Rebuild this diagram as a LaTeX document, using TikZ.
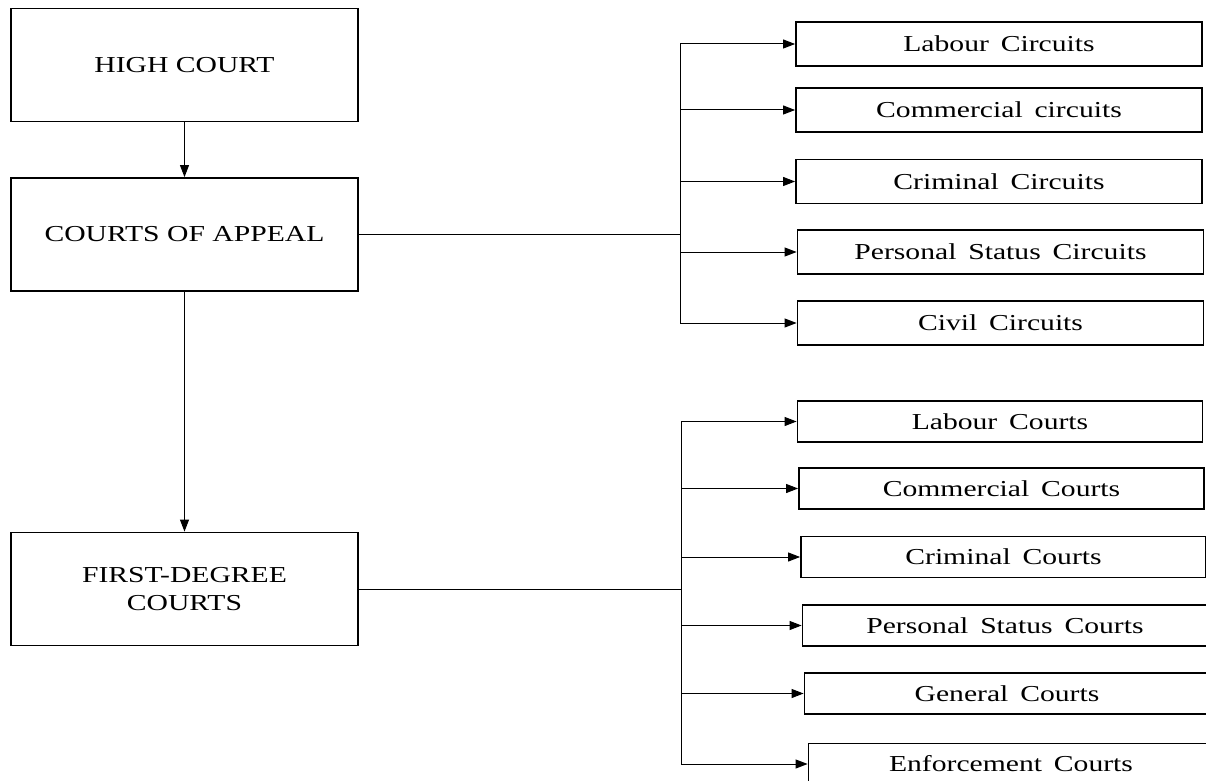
\documentclass[tikz,border=0pt]{standalone}
\usepackage{fontspec}
\setmainfont{Liberation Serif}[FakeStretch=1.3]
\newfontfamily\boxfont{Liberation Serif}[FakeStretch=1.3,WordSpace=1.6]
\usetikzlibrary{arrows.meta}

\begin{document}
\begin{tikzpicture}[x=0.5pt, y=-0.5pt,
                      every node/.style = {shape=rectangle, draw, line width=0.9pt,
                        align=center, inner sep=0pt,
                        font=\fontsize{11.4}{13.7}\selectfont},
                      court/.style = {minimum width=173.5pt, minimum height=56.5pt},
                      circuit/.style = {minimum width=203pt, minimum height=22pt,
                        font=\boxfont\fontsize{11.4}{13.7}\selectfont},
                      lower/.style = {circuit, minimum width=202.5pt, minimum height=20.5pt},
                      wire/.style = {line width=0.5pt},
                      link/.style = {wire, -{Triangle[length=6pt,width=4.5pt]}}]
  \useasboundingbox (0,0) rectangle (1206,781);
  \clip (0,0) rectangle (1206,781);

  % main chain
  \node[court] (high)   at (184.5,65)  {HIGH COURT};
  \node[court] (appeal) at (184.5,234.5) {COURTS OF APPEAL};
  \node[court] (first)  at (184.5,589) {FIRST-DEGREE\\COURTS};

  % circuits of the courts of appeal
  \node[circuit] (labc) at (999,44)     {Labour Circuits};
  \node[circuit] (comc) at (999,110)    {Commercial circuits};
  \node[circuit] (crmc) at (999,181.5)  {Criminal Circuits};
  \node[circuit] (psc)  at (1000.5,252) {Personal Status Circuits};
  \node[circuit] (civc) at (1000.5,323) {Civil Circuits};

  % first-degree courts
  \node[lower] (labf) at (1000,421.5)   {Labour Courts};
  \node[lower] (comf) at (1001.5,488.5) {Commercial Courts};
  \node[lower] (crmf) at (1003.5,557)   {Criminal Courts};
  \node[lower] (psf)  at (1005,625.5)   {Personal Status Courts};
  \node[lower] (genf) at (1007,693.5)   {General Courts};
  \node[lower] (enff) at (1011,764)     {Enforcement Courts};

  \draw[link] (high) -- (appeal);
  \draw[link] (appeal) -- (first);

  % upper bus
  \coordinate (upbus) at (680,234.5);
  \draw[wire] (appeal.east) -- (upbus);
  \draw[wire] (upbus |- labc.west) -- (upbus |- civc.west);
  \foreach \n in {labc,comc,crmc,psc,civc}
    \draw[link] (upbus |- \n.west) -- (\n.west);

  % lower bus
  \coordinate (lowbus) at (681,589);
  \draw[wire] (first.east) -- (lowbus);
  \draw[wire] (lowbus |- labf.west) -- (lowbus |- enff.west);
  \foreach \n in {labf,comf,crmf,psf,genf,enff}
    \draw[link] (lowbus |- \n.west) -- (\n.west);
\end{tikzpicture}
\end{document}
